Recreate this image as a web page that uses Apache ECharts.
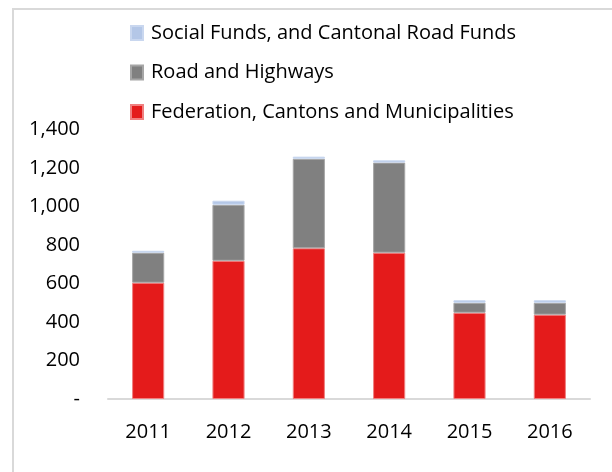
<!DOCTYPE html>
<html>
<head>
<meta charset="utf-8">
<script src="https://cdn.jsdelivr.net/npm/echarts@6/dist/echarts.min.js"></script>
<style>
    html, body { margin: 0; padding: 0; background: #fff; }
    #chart { width: 612px; height: 472px; }
</style>
</head>
<body>
<div id="chart"></div>
<script>
    // 数据
    var years = ['2011', '2012', '2013', '2014', '2015', '2016'];
    var federation = [604, 718, 783, 760, 448, 438];
    var roads = [156, 291, 465, 468, 52, 62];
    var socialFunds = [10, 21, 11, 12, 13, 13];
    var yTicks = [0, 200, 400, 600, 800, 1000, 1200, 1400];

    var font = '"Open Sans", "Noto Sans", sans-serif';

    var myChart = echarts.init(document.getElementById('chart'));
    var option = {
        backgroundColor: '#fff',
        animation: false,
        graphic: [{
            type: 'rect',
            shape: { x: 13, y: 9, width: 610, height: 480 },
            style: { fill: 'none', stroke: '#d9d9d9', lineWidth: 2 }
        }],
        legend: {
            orient: 'vertical',
            left: 130,
            top: 22,
            padding: 0,
            itemWidth: 12,
            itemHeight: 14,
            itemGap: 17.5,
            icon: 'rect',
            textStyle: { fontFamily: font, fontSize: 20, color: '#000', lineHeight: 22, padding: [0, 0, 0, 3] },
            data: ['Social Funds, and Cantonal Road Funds', 'Road and Highways', 'Federation, Cantons and Municipalities']
        },
        grid: { left: 108, right: 22, top: 129.5, bottom: 73 },
        xAxis: {
            type: 'category',
            data: years,
            axisLine: { lineStyle: { color: '#d9d9d9', width: 2 } },
            axisTick: { show: false },
            axisLabel: { fontFamily: font, fontSize: 20, color: '#000', margin: 23 }
        },
        yAxis: {
            type: 'value',
            min: 0,
            max: yTicks[yTicks.length - 1],
            interval: 200,
            splitLine: { show: false },
            axisLine: { show: false },
            axisTick: { show: false },
            axisLabel: {
                fontFamily: font, fontSize: 20, color: '#000', margin: 28,
                formatter: function (v) {
                    return v === 0 ? '-' : v.toLocaleString('en-US');
                }
            }
        },
        series: [{
            name: 'Federation, Cantons and Municipalities',
            type: 'bar',
            stack: 'total',
            barWidth: '40%',
            data: federation,
            itemStyle: { color: '#e41b1b', borderColor: '#f08080', borderWidth: 1 }
        }, {
            name: 'Road and Highways',
            type: 'bar',
            stack: 'total',
            data: roads,
            itemStyle: { color: '#808080', borderColor: '#a6a6a6', borderWidth: 1 }
        }, {
            name: 'Social Funds, and Cantonal Road Funds',
            type: 'bar',
            stack: 'total',
            data: socialFunds,
            itemStyle: { color: '#b4c7e7', borderColor: '#c9d7ef', borderWidth: 1 }
        }]
    };
    myChart.setOption(option);
</script>
</body>
</html>
